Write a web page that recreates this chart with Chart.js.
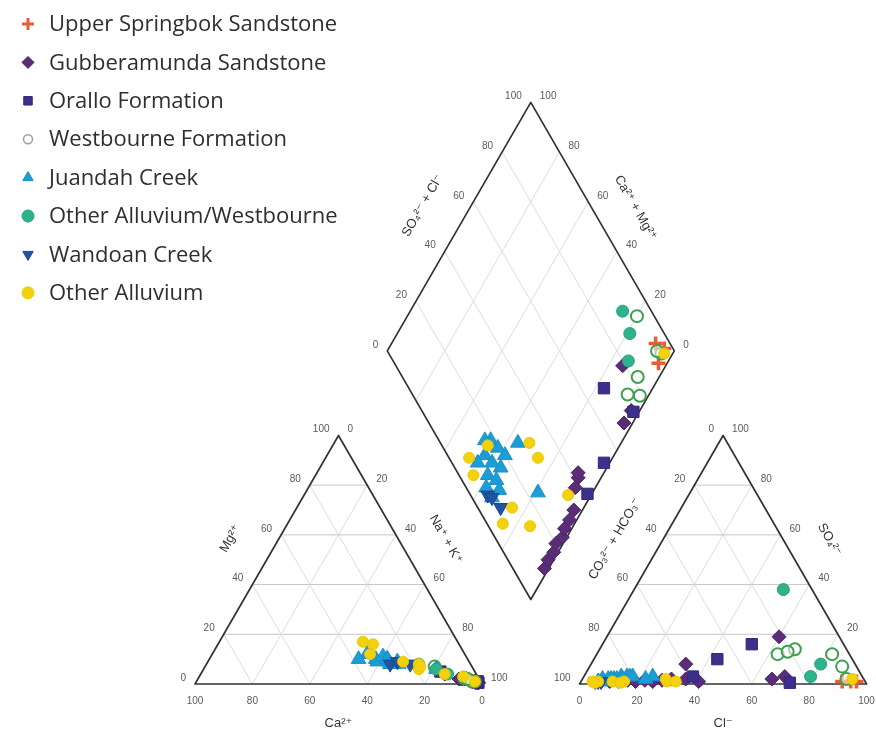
<!DOCTYPE html>
<html>
<head>
<meta charset="utf-8">
<script src="https://cdn.jsdelivr.net/npm/chart.js@4.4.1/dist/chart.umd.min.js"></script>
<style>
  html, body { margin: 0; padding: 0; background: #ffffff; }
  canvas { display: block; }
</style>
</head>
<body>
<canvas id="piper" width="876" height="736"></canvas>
<script>
// Water samples in meq %: [Ca, Mg, Cl, SO4]
// (Na+K and CO3+HCO3 are the remainders to 100 %).
const seriesNames = [
  'Upper Springbok Sandstone',
  'Gubberamunda Sandstone',
  'Orallo Formation',
  'Westbourne Formation',
  'Juandah Creek',
  'Other Alluvium/Westbourne',
  'Wandoan Creek',
  'Other Alluvium'
];

const upperSpringbok = [[6, 2, 94, 1], [2, 1, 91, 1], [3, 1, 96, 1]];

const gubberamunda = [
  [1, 0.5, 10, 1], [1.5, 0.5, 13, 1], [1, 0.5, 16, 1.5], [1.5, 1, 19, 1],
  [1, 0.5, 22, 1.5], [2, 0.5, 25, 1], [1.5, 1, 28, 1.5], [2, 1, 31, 2],
  [6, 2, 33, 8], [7, 2, 41, 1], [5, 2, 36, 2], [2, 1, 66, 2],
  [2, 1, 70, 3], [11, 4, 60, 19]
];

const orallo = [[12, 5, 52, 16], [1, 0.5, 38, 3], [1, 1, 43, 10], [1, 1, 73, 0.5]];

const westbourne = [
  [13, 7, 82, 12], [5, 2.5, 68, 14], [5, 2.5, 63, 12],
  [2, 1, 66, 13], [3, 1, 88, 7], [4, 2, 92, 2]
];

const juandah = [
  [34, 12, 15, 3], [32, 10, 16, 3], [33, 12, 11, 2], [33, 13, 7, 2],
  [32, 9, 12, 2], [28, 9, 13, 3], [29, 11, 9, 1], [28, 8, 10, 2],
  [28, 10, 6, 1], [25, 8, 9, 2], [25, 9, 6, 1], [28, 10, 17, 3],
  [38, 10, 14, 2], [28, 8, 24, 3], [13, 6, 22, 2]
];

const alluviumWestbourne = [[18, 8, 52, 38], [13, 6, 80, 8], [10, 4, 79, 3]];

const wandoan = [[28, 8, 5, 1], [21, 8, 7, 1], [25, 9, 6, 1]];

const otherAlluvium = [
  [30, 16, 15, 1], [33, 17, 6, 1], [33, 12, 4, 1], [23, 9, 30, 1],
  [18, 8, 29, 2], [19, 6, 11, 1], [18, 7, 5, 0.5], [11, 4, 14, 0.5],
  [5, 3, 33, 1], [2, 1, 94, 2]
];

const seriesSamples = [upperSpringbok, gubberamunda, orallo, westbourne,
  juandah, alluviumWestbourne, wandoan, otherAlluvium];

const tickValues = [0, 20, 40, 60, 80, 100];
const gridValues = [20, 40, 60, 80];

// ---- marker styles ----
const seriesFill = ['#ea5b3a', '#5b2d78', '#3d2f8c', 'rgba(255,255,255,0.55)',
  '#1b9dd6', '#2fb38c', '#2152a3', '#f4d10d'];
const seriesBorder = ['#ea5b3a', '#4a2464', '#33277a', '#3f9e4f',
  '#1890c8', '#23a07a', '#1c468f', '#ecc800'];
const seriesStyle = ['cross', 'rectRot', 'rect', 'circle', 'triangle', 'circle', 'triangle', 'circle'];
const seriesRotation = [0, 0, 0, 0, 0, 0, 180, 0];
const seriesRadius = [7, 7, 8, 6, 8.5, 6, 8, 5.5];
const seriesBorderWidth = [3.5, 1, 1, 2, 1, 1, 1, 1];

// ---- Piper geometry (side of each triangle = 100 units) ----
const H = Math.sqrt(3) / 2;
const GAP = 34;

function cationPoint(s) {
  const na = 100 - s[0] - s[1];
  return { x: na + s[1] / 2, y: s[1] * H };
}
function anionPoint(s) {
  return { x: 100 + GAP + s[2] + s[3] / 2, y: s[3] * H };
}
function diamondPoint(s) {
  const a = (s[0] + s[1]) / 100, b = (s[2] + s[3]) / 100;
  return { x: 100 + GAP / 2 + 50 * (b - a), y: GAP * H + 100 * H * (a + b) };
}

const datasets = seriesSamples.map((samples, i) => ({
  label: seriesNames[i],
  data: [].concat(samples.map(cationPoint), samples.map(anionPoint), samples.map(diamondPoint)),
  pointStyle: seriesStyle[i],
  rotation: seriesRotation[i],
  pointRadius: seriesRadius[i],
  pointBorderWidth: seriesBorderWidth[i],
  backgroundColor: seriesFill[i],
  borderColor: seriesBorder[i],
  order: seriesNames.length - i,
  clip: false
}));

// page scale: units -> pixels
const PX = 2.87, ORIGIN_X = 195, ORIGIN_Y = 684, CW = 876, CH = 736;

const frame = {
  id: 'piperFrame',
  beforeDatasetsDraw(chart) {
    const ctx = chart.ctx;
    const sx = chart.scales.x, sy = chart.scales.y;
    const P = (x, y) => [sx.getPixelForValue(x), sy.getPixelForValue(y)];
    const line = (a, b, color, w) => {
      const p = P(a[0], a[1]), q = P(b[0], b[1]);
      ctx.beginPath(); ctx.moveTo(p[0], p[1]); ctx.lineTo(q[0], q[1]);
      ctx.strokeStyle = color; ctx.lineWidth = w; ctx.stroke();
    };
    const poly = (pts, color, w) => {
      ctx.beginPath();
      pts.forEach((pt, k) => { const p = P(pt[0], pt[1]); k ? ctx.lineTo(p[0], p[1]) : ctx.moveTo(p[0], p[1]); });
      ctx.closePath(); ctx.strokeStyle = color; ctx.lineWidth = w; ctx.stroke();
    };
    const gridH = '#c6c6c6', gridD = '#dcdcdc', edge = '#333333';
    ctx.save();
    ctx.lineCap = 'round';
    ctx.lineJoin = 'round';
    // ternary grids
    [0, 100 + GAP].forEach(ox => {
      gridValues.forEach(k => {
        line([ox + k / 2, k * H], [ox + 100 - k / 2, k * H], gridH, 1);
        line([ox + 100 - k, 0], [ox + (100 - k) / 2, (100 - k) * H], gridD, 1);
        line([ox + k, 0], [ox + k + (100 - k) / 2, (100 - k) * H], gridD, 1);
      });
    });
    // diamond grid
    const dpt = (a, b) => [100 + GAP / 2 + 50 * (b - a), GAP * H + 100 * H * (a + b)];
    gridValues.forEach(k => {
      line(dpt(k / 100, 0), dpt(k / 100, 1), gridD, 1);
      line(dpt(0, k / 100), dpt(1, k / 100), gridD, 1);
    });
    // outlines
    poly([[0, 0], [100, 0], [50, 100 * H]], edge, 1.7);
    poly([[100 + GAP, 0], [200 + GAP, 0], [150 + GAP, 100 * H]], edge, 1.7);
    poly([dpt(0, 0), dpt(1, 0), dpt(1, 1), dpt(0, 1)], edge, 1.7);

    // tick labels
    ctx.fillStyle = '#5a5a5a';
    ctx.font = '10px "Liberation Sans", Arial, sans-serif';
    ctx.textBaseline = 'middle';
    const label = (txt, pt, dx, dy, align) => {
      const p = P(pt[0], pt[1]);
      ctx.textAlign = align;
      ctx.fillText(txt, p[0] + dx, p[1] + dy);
    };
    tickValues.forEach(v => {
      // cation triangle
      label(String(v), [100 - v, 0], 0, 17, 'center');
      label(String(v), [v / 2, v * H], -9, -6, 'right');
      label(String(v), [v + (100 - v) / 2, (100 - v) * H], 9, -6, 'left');
      // anion triangle
      label(String(v), [100 + GAP + v, 0], 0, 17, 'center');
      label(String(v), [100 + GAP + (100 - v) / 2, (100 - v) * H], -9, -6, 'right');
      label(String(v), [200 + GAP - v / 2, v * H], 9, -6, 'left');
      // diamond
      label(String(v), dpt(1, v / 100), -9, -6, 'right');
      label(String(v), dpt(v / 100, 1), 9, -6, 'left');
    });

    // axis titles
    ctx.fillStyle = '#333333';
    ctx.font = '13px "Liberation Sans", "DejaVu Sans", sans-serif';
    ctx.textAlign = 'center';
    const title = (txt, a, b, dist) => {
      const p = P(a[0], a[1]), q = P(b[0], b[1]);
      const mx = (p[0] + q[0]) / 2, my = (p[1] + q[1]) / 2;
      let ang = Math.atan2(q[1] - p[1], q[0] - p[0]);
      const nx = Math.sin(ang), ny = -Math.cos(ang);
      if (ang > Math.PI / 2 || ang < -Math.PI / 2) ang += Math.PI;
      ctx.save();
      ctx.translate(mx + nx * dist, my + ny * dist);
      ctx.rotate(ang);
      ctx.fillText(txt, 0, 0);
      ctx.restore();
    };
    const c = P(50, 0), an = P(150 + GAP, 0);
    ctx.fillText('Ca²⁺', c[0], c[1] + 39);
    ctx.fillText('Cl⁻', an[0], an[1] + 39);
    title('Mg²⁺', [0, 0], [50, 100 * H], 42);
    title('Na⁺ + K⁺', [50, 100 * H], [100, 0], 41);
    title('CO₃²⁻ + HCO₃⁻', [100 + GAP, 0], [150 + GAP, 100 * H], 42);
    title('SO₄²⁻', [150 + GAP, 100 * H], [200 + GAP, 0], 40);
    title('SO₄²⁻ + Cl⁻', dpt(1, 0), dpt(1, 1), 42);
    title('Ca²⁺ + Mg²⁺', dpt(1, 1), dpt(0, 1), 38);
    ctx.restore();
  },
  afterDraw(chart) {
    const ctx = chart.ctx;
    ctx.save();
    ctx.font = '22px "Open Sans", sans-serif';
    ctx.textBaseline = 'middle';
    ctx.textAlign = 'left';
    seriesNames.forEach((name, i) => {
      const y = 24 + i * 38.4;
      ctx.fillStyle = seriesFill[i];
      ctx.strokeStyle = seriesBorder[i];
      ctx.lineWidth = i === 0 ? 3 : 1;
      const opts = {
        pointStyle: seriesStyle[i],
        rotation: seriesRotation[i],
        radius: i === 3 ? 4.5 : 6,
        borderWidth: ctx.lineWidth
      };
      if (i === 3) { ctx.fillStyle = '#ffffff'; ctx.strokeStyle = '#9aa0a0'; ctx.lineWidth = 1.5; }
      Chart.helpers.drawPoint(ctx, opts, 28, y);
      ctx.fillStyle = '#2e2e2e';
      ctx.fillText(name, 49, y + 1);
    });
    ctx.restore();
  }
};

new Chart(document.getElementById('piper'), {
  type: 'scatter',
  data: { datasets },
  options: {
    responsive: false,
    animation: false,
    events: [],
    layout: { padding: 0, autoPadding: false },
    plugins: { legend: { display: false }, tooltip: { enabled: false } },
    scales: {
      x: { type: 'linear', display: false, min: -ORIGIN_X / PX, max: (CW - ORIGIN_X) / PX },
      y: { type: 'linear', display: false, min: -(CH - ORIGIN_Y) / PX, max: ORIGIN_Y / PX }
    }
  },
  plugins: [frame]
});
</script>
</body>
</html>
